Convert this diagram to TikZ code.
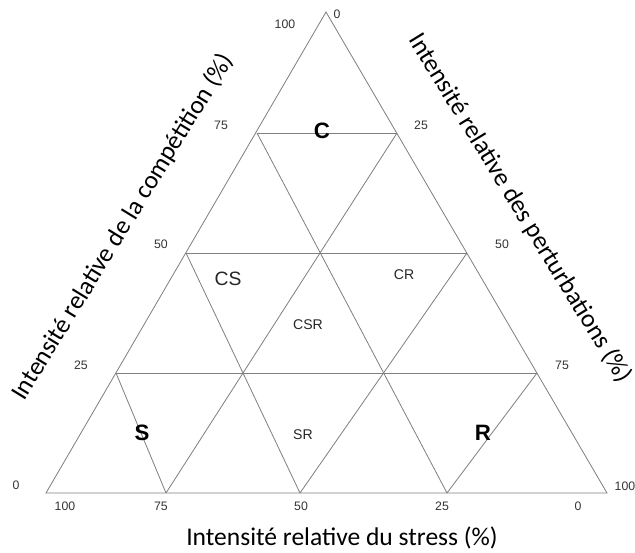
\documentclass[tikz,border=0pt]{standalone}
\usepackage{fontspec}
\setmainfont{Carlito}
\newfontfamily\arialfont{Liberation Sans}
\begin{document}
\begin{tikzpicture}[x=0.03cm,y=-0.03cm,
  grid/.style={draw=black!50,line width=.7pt},
  num/.style={font=\arialfont\fontsize{10.5}{12}\selectfont,text=black!80,inner sep=0},
  big/.style={font=\arialfont\bfseries\fontsize{19}{22}\selectfont,inner sep=0},
  mid/.style={font=\arialfont\fontsize{16.5}{19}\selectfont,text=black!85,inner sep=0},
  small/.style={font=\arialfont\fontsize{12}{14}\selectfont,text=black!85,inner sep=0},
  axis/.style={font=\fontsize{21.8}{26}\selectfont,inner sep=0}]
\useasboundingbox(0,0)rectangle(635,553);
\coordinate(A)at(326,12);\coordinate(L)at(46,493);\coordinate(R)at(607,493);
\coordinate(l1)at(116,373);\coordinate(l2)at(186,253);\coordinate(l3)at(257,133);
\coordinate(r1)at(537,373);\coordinate(r2)at(467,253);\coordinate(r3)at(397,133);
\coordinate(b1)at(166,493);\coordinate(b2)at(300,493);\coordinate(b3)at(447,493);
\draw[grid](A)--(L)--(R)--cycle;
\draw[grid](l1)--(r1);\draw[grid](l2)--(r2);\draw[grid](l3)--(r3);
\draw[grid](l3)--(b3);\draw[grid](r3)--(b1);\draw[grid](l2)--(b2);\draw[grid](r2)--(b2);\draw[grid](l1)--(b1);\draw[grid](r1)--(b3);
\node[num](lc100)at(285,24){100};\node[num](lc75)at(221,125){75};\node[num](lc50)at(161,244){50};\node[num](lc25)at(81,365){25};\node[num](lc0)at(16,485){0};
\node[num](rp0)at(337,14){0};\node[num](rp25)at(421,125){25};\node[num](rp50)at(502,244){50};\node[num](rp75)at(562,365){75};\node[num](rp100)at(625,486){100};
\node[num](bs100)at(65,506){100};\node[num](bs75)at(161,506){75};\node[num](bs50)at(301,506){50};\node[num](bs25)at(442,506){25};\node[num](bs0)at(578,506){0};
\node[big](c)at(322,131){C};\node[big](s)at(142,433){S};\node[big](r)at(483,433){R};
\node[mid](cs)at(228,279){CS};\node[small](cr)at(404,275){CR};\node[small](csr)at(308,325){CSR};\node[small](sr)at(303,435){SR};
\node[axis](xs)at(342,538){Intensité relative du stress (\%)};
\node[axis,rotate=58.5](xc)at(123,227){Intensité relative de la compétition (\%)};
\node[axis,rotate=-58.5](xp)at(520,208){Intensité relative des perturbations (\%)};
\end{tikzpicture}
\end{document}
